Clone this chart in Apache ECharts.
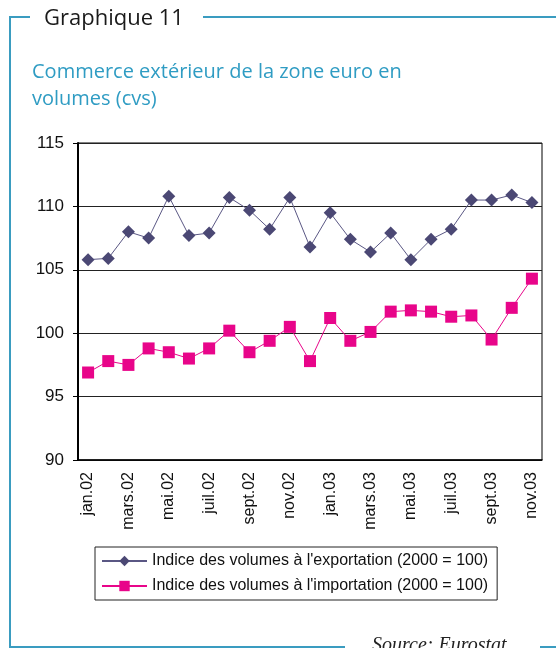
<!DOCTYPE html>
<html>
<head>
<meta charset="utf-8">
<script src="https://cdn.jsdelivr.net/npm/echarts@6/dist/echarts.min.js"></script>
<style>
  html, body { margin: 0; padding: 0; background: #fff; }
  #chart { width: 556px; height: 648px; }
</style>
</head>
<body>
<div id="chart"></div>
<script>
// mois jan.02 -> nov.03
const months = [
  'jan.02', 'févr.02', 'mars.02', 'avr.02', 'mai.02', 'juin.02', 'juil.02', 'août.02',
  'sept.02', 'oct.02', 'nov.02', 'déc.02', 'jan.03', 'févr.03', 'mars.03', 'avr.03',
  'mai.03', 'juin.03', 'juil.03', 'août.03', 'sept.03', 'oct.03', 'nov.03'
];

// Indice des volumes à l'exportation (2000 = 100)
const exportsIdx = [
  105.8, 105.9, 108.0, 107.5, 110.8, 107.7, 107.9, 110.7, 109.7, 108.2, 110.7, 106.8,
  109.5, 107.4, 106.4, 107.9, 105.8, 107.4, 108.2, 110.5, 110.5, 110.9, 110.3
];

// Indice des volumes à l'importation (2000 = 100)
const importsIdx = [
  96.9, 97.8, 97.5, 98.8, 98.5, 98.0, 98.8, 100.2, 98.5, 99.4, 100.5, 97.8,
  101.2, 99.4, 100.1, 101.7, 101.8, 101.7, 101.3, 101.4, 99.5, 102.0, 104.3
];

const seriesNames = [
  "Indice des volumes à l'exportation (2000 = 100)",
  "Indice des volumes à l'importation (2000 = 100)"
];

const frameColor = '#3a9cc0';
const chart = echarts.init(document.getElementById('chart'));

const option = {
  backgroundColor: '#fff',
  animation: false,
  textStyle: { fontFamily: 'Liberation Sans' },
  graphic: [
    // cadre
    { type: 'line', shape: { x1: 9, y1: 17, x2: 30, y2: 17 }, style: { stroke: frameColor, lineWidth: 2 } },
    { type: 'line', shape: { x1: 203, y1: 17, x2: 556, y2: 17 }, style: { stroke: frameColor, lineWidth: 2 } },
    { type: 'line', shape: { x1: 10, y1: 16, x2: 10, y2: 648 }, style: { stroke: frameColor, lineWidth: 2 } },
    { type: 'line', shape: { x1: 10, y1: 647, x2: 345, y2: 647 }, style: { stroke: frameColor, lineWidth: 2 } },
    { type: 'line', shape: { x1: 540, y1: 647, x2: 556, y2: 647 }, style: { stroke: frameColor, lineWidth: 2 } },
    {
      type: 'text', left: 44, top: 8,
      style: { text: 'Graphique 11', fill: '#1a1a1a', font: '22px "Open Sans", sans-serif' }
    },
    {
      type: 'text', left: 32, top: 59,
      style: {
        text: 'Commerce extérieur de la zone euro en\nvolumes (cvs)',
        fill: '#2f9cc3', font: '20px "Open Sans", sans-serif', lineHeight: 27
      }
    },
    {
      type: 'text', left: 372, top: 636,
      style: { text: 'Source: Eurostat', fill: '#222', font: 'italic 20px "Liberation Serif", serif' }
    }
  ],
  legend: {
    orient: 'vertical',
    left: 95,
    top: 547,
    padding: [6, 9, 6, 6],
    itemGap: 9,
    itemWidth: 45,
    itemHeight: 13,
    borderColor: '#222',
    borderWidth: 1,
    textStyle: { fontSize: 16, color: '#111', fontFamily: 'Liberation Sans' },
    data: seriesNames
  },
  grid: {
    left: 78,
    right: 14,
    top: 143,
    bottom: 188,
    show: true,
    borderColor: '#000',
    borderWidth: 1
  },
  xAxis: {
    type: 'category',
    data: months,
    boundaryGap: true,
    axisLine: { lineStyle: { color: '#000', width: 1.5 } },
    axisTick: { interval: 1, length: 5, lineStyle: { color: '#000' } },
    axisLabel: {
      interval: 1,
      rotate: 90,
      margin: 12,
      fontSize: 16,
      color: '#111'
    },
    splitLine: { show: false }
  },
  yAxis: {
    type: 'value',
    min: 90,
    max: 115,
    interval: 5,
    axisLine: { show: true, lineStyle: { color: '#000', width: 2 } },
    axisTick: { show: true, length: 5, lineStyle: { color: '#000' } },
    axisLabel: { fontSize: 17, color: '#111', margin: 14 },
    splitLine: { lineStyle: { color: '#222', width: 1 } }
  },
  series: [
    {
      name: seriesNames[0],
      type: 'line',
      data: exportsIdx,
      symbol: 'diamond',
      symbolSize: 13,
      itemStyle: { color: '#4b4874' },
      lineStyle: { color: '#5a5784', width: 1 }
    },
    {
      name: seriesNames[1],
      type: 'line',
      data: importsIdx,
      symbol: 'rect',
      symbolSize: 12,
      itemStyle: { color: '#e8058a' },
      lineStyle: { color: '#e8058a', width: 1 }
    }
  ]
};

chart.setOption(option);
</script>
</body>
</html>
